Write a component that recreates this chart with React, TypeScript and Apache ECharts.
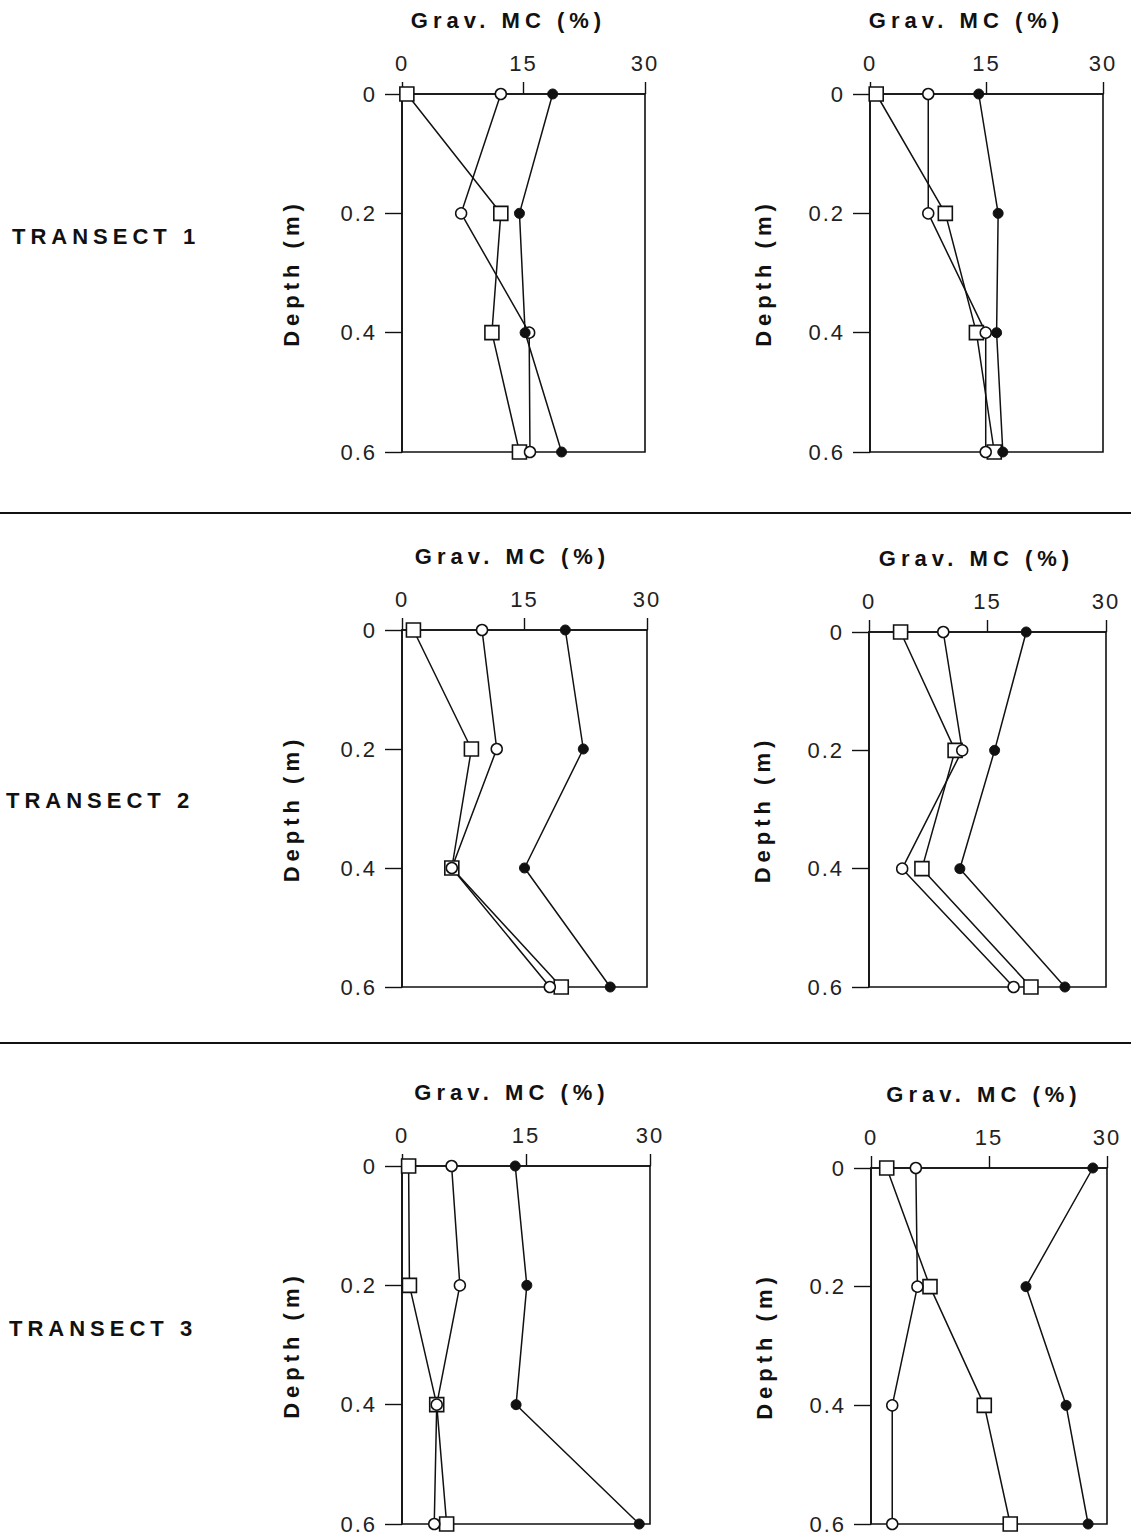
import React, { useEffect, useRef } from "react";
import * as echarts from "echarts";

// Depths (m) at which moisture content was measured
const depths = [0, 0.2, 0.4, 0.6];

// Tick labels
const xTicks = [0, 15, 30];
const yTicks = [0, 0.2, 0.4, 0.6];

// Transect labels
const transects = ["TRANSECT 1", "TRANSECT 2", "TRANSECT 3"];

// Gravimetric moisture content (%) per panel: square / open circle / filled circle
const t1LeftSquare = [0.6, 12.2, 11.1, 14.5];
const t1LeftCircle = [12.2, 7.3, 15.7, 15.8];
const t1LeftFilled = [18.6, 14.5, 15.2, 19.7];

const t1RightSquare = [0.8, 9.7, 13.7, 16.0];
const t1RightCircle = [7.5, 7.5, 14.9, 14.9];
const t1RightFilled = [14.0, 16.5, 16.3, 17.1];

const t2LeftSquare = [1.4, 8.5, 6.1, 19.5];
const t2LeftCircle = [9.8, 11.6, 6.1, 18.1];
const t2LeftFilled = [20.0, 22.2, 15.0, 25.5];

const t2RightSquare = [4.0, 10.9, 6.7, 20.5];
const t2RightCircle = [9.4, 11.8, 4.2, 18.3];
const t2RightFilled = [19.9, 15.9, 11.5, 24.8];

const t3LeftSquare = [0.8, 0.9, 4.2, 5.4];
const t3LeftCircle = [6.0, 7.0, 4.2, 3.9];
const t3LeftFilled = [13.7, 15.1, 13.8, 28.7];

const t3RightSquare = [2.0, 7.5, 14.4, 17.7];
const t3RightCircle = [5.7, 5.9, 2.7, 2.7];
const t3RightFilled = [28.2, 19.7, 24.8, 27.6];

const panelsData = [
  [t1LeftSquare, t1LeftCircle, t1LeftFilled],
  [t1RightSquare, t1RightCircle, t1RightFilled],
  [t2LeftSquare, t2LeftCircle, t2LeftFilled],
  [t2RightSquare, t2RightCircle, t2RightFilled],
  [t3LeftSquare, t3LeftCircle, t3LeftFilled],
  [t3RightSquare, t3RightCircle, t3RightFilled],
];

// Layout (pixels)
const grids = [
  { left: 402, top: 94, width: 243, height: 358 },
  { left: 870, top: 94, width: 233, height: 358 },
  { left: 402, top: 630, width: 245, height: 357 },
  { left: 869, top: 632, width: 237, height: 355 },
  { left: 402, top: 1166, width: 248, height: 359 },
  { left: 871, top: 1168, width: 236, height: 359 },
];
// how far each axis title sits left of its axis centre
const titleShift = [15, 20, 12, 11, 14, 5];
const transectPos = [
  { x: 12, y: 236 },
  { x: 6, y: 800 },
  { x: 9, y: 1328 },
];
const separators = [513, 1043];

const FONT = "'Liberation Sans', Arial, sans-serif";
const INK = "#111";

export default function App() {
  const ref = useRef<HTMLDivElement>(null);

  useEffect(() => {
    if (!ref.current) return;
    const chart = echarts.init(ref.current, null, { renderer: "svg" });

    const xAxes: any[] = [];
    const yAxes: any[] = [];
    const series: any[] = [];

    grids.forEach((g, i) => {
      xAxes.push({
        type: "value",
        gridIndex: i,
        position: "top",
        min: xTicks[0],
        max: xTicks[xTicks.length - 1],
        interval: xTicks[1] - xTicks[0],
        name: "Grav. MC (%)",
        nameLocation: "middle",
        nameGap: 63,
        nameTextStyle: {
          fontFamily: FONT,
          fontWeight: "bold",
          fontSize: 22,
          color: INK,
          padding: [0, titleShift[i] * 2, 0, 0],
        },
        axisLine: { show: true, onZero: false, lineStyle: { color: INK, width: 1.6 } },
        axisTick: { show: true, inside: false, length: 12, lineStyle: { color: INK, width: 1.4 } },
        axisLabel: { fontFamily: FONT, fontSize: 22, color: "#222", margin: 20 },
        splitLine: { show: false },
      });
      yAxes.push({
        type: "value",
        gridIndex: i,
        inverse: true,
        min: yTicks[0],
        max: yTicks[yTicks.length - 1],
        interval: 0.2,
        name: "Depth (m)",
        nameLocation: "middle",
        nameRotate: 90,
        nameGap: i % 2 === 0 ? 100 : 96,
        nameTextStyle: {
          fontFamily: FONT,
          fontWeight: "bold",
          fontSize: 22,
          color: INK,
        },
        axisLine: { show: true, onZero: false, lineStyle: { color: INK, width: 1.6 } },
        axisTick: { show: true, inside: false, length: 17, lineStyle: { color: INK, width: 1.4 } },
        axisLabel: {
          fontFamily: FONT,
          fontSize: 22,
          color: "#222",
          margin: 25,
          formatter: (v: number) => (Math.abs(v) < 1e-9 ? "0" : v.toFixed(1)),
        },
        splitLine: { show: false },
      });

      const [sq, oc, fc] = panelsData[i];
      const mk = (vals: number[]) => vals.map((v, k) => [v, depths[k]]);
      series.push(
        {
          type: "line",
          xAxisIndex: i,
          yAxisIndex: i,
          data: mk(sq),
          symbol: "rect",
          symbolSize: 14,
          clip: false,
          lineStyle: { color: INK, width: 1.5 },
          itemStyle: { color: "#fff", borderColor: INK, borderWidth: 1.6 },
          z: 3,
        },
        {
          type: "line",
          xAxisIndex: i,
          yAxisIndex: i,
          data: mk(oc),
          symbol: "circle",
          symbolSize: 11,
          clip: false,
          lineStyle: { color: INK, width: 1.5 },
          itemStyle: { color: "#fff", borderColor: INK, borderWidth: 1.5 },
          z: 3,
        },
        {
          type: "line",
          xAxisIndex: i,
          yAxisIndex: i,
          data: mk(fc),
          symbol: "circle",
          symbolSize: 10,
          clip: false,
          lineStyle: { color: INK, width: 1.5 },
          itemStyle: { color: INK, borderColor: INK, borderWidth: 1 },
          z: 3,
        }
      );
    });

    const graphics: any[] = [];
    transects.forEach((t, i) => {
      graphics.push({
        type: "text",
        x: transectPos[i].x,
        y: transectPos[i].y,
        style: {
          text: t,
          font: `bold 22px ${FONT}`,
          fill: INK,
          verticalAlign: "middle",
          align: "left",
        },
      });
    });
    separators.forEach((y) => {
      graphics.push({
        type: "line",
        shape: { x1: 0, y1: y, x2: 1131, y2: y },
        style: { stroke: INK, lineWidth: 2 },
      });
    });

    chart.setOption({
      animation: false,
      backgroundColor: "#fff",
      grid: grids.map((g) => ({
        ...g,
        show: true,
        borderColor: INK,
        borderWidth: 1.6,
        backgroundColor: "transparent",
        containLabel: false,
      })),
      xAxis: xAxes,
      yAxis: yAxes,
      series,
      graphic: graphics,
    });

    return () => chart.dispose();
  }, []);

  return (
    <>
      <style>{`#mc-chart text{letter-spacing:2px;} #mc-chart text[style*="bold"]{letter-spacing:5px;}`}</style>
      <div
        id="mc-chart"
        ref={ref}
        style={{ position: "absolute", left: 0, top: 0, width: 1131, height: 1535 }}
      />
    </>
  );
}
